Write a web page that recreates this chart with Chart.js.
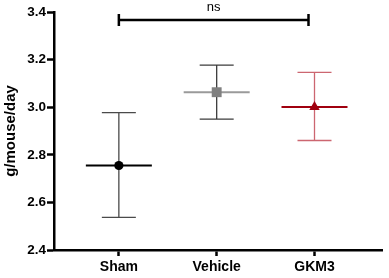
<!DOCTYPE html>
<html>
<head>
<meta charset="utf-8">
<script src="https://cdn.jsdelivr.net/npm/chart.js@4.4.0/dist/chart.umd.min.js"></script>
<style>
  html, body { margin: 0; padding: 0; background: #fff; }
  #wrap { width: 389px; height: 278px; }
</style>
</head>
<body>
<div id="wrap"><canvas id="intakeChart" width="389" height="278"></canvas></div>
<script>
// group names and values
const groups = ['Sham', 'Vehicle', 'GKM3'];
const means = [2.755, 3.063, 3.001];
const errLow = [2.537, 2.950, 2.860];
const errHigh = [2.977, 3.177, 3.146];
const yTicks = [2.4, 2.6, 2.8, 3.0, 3.2, 3.4];

// significance bracket between Sham and GKM3
const bracketGroups = ['Sham', 'GKM3'];
const bracketY = 3.366;
const bracketLabel = 'ns';

// per-group styling
const markerColors = ['#000000', '#808080', '#a0000f'];
const meanColors = ['#000000', '#9a9a9a', '#a0000f'];
const barColors = ['#4a4a4a', '#3c3c3c', '#cc6670'];
const markerStyles = ['circle', 'rect', 'triangle'];
const markerSizes = [4.6, 7, 6];

const FONT = '"Liberation Sans", Arial, Helvetica, sans-serif';

// draws the error bars, mean lines and the ns bracket from the data above
const errorBarPlugin = {
  id: 'errorBars',
  beforeDatasetsDraw(chart) {
    const ctx = chart.ctx;
    const xs = chart.scales.x;
    const ys = chart.scales.y;
    ctx.save();
    groups.forEach((g, i) => {
      const x = xs.getPixelForValue(i + 1);
      const yTop = ys.getPixelForValue(errHigh[i]);
      const yBot = ys.getPixelForValue(errLow[i]);
      const yMean = ys.getPixelForValue(means[i]);
      ctx.strokeStyle = barColors[i];
      ctx.lineWidth = 1.3;
      ctx.beginPath();
      ctx.moveTo(x, yTop); ctx.lineTo(x, yBot);
      ctx.moveTo(x - 17, yTop); ctx.lineTo(x + 17, yTop);
      ctx.moveTo(x - 17, yBot); ctx.lineTo(x + 17, yBot);
      ctx.stroke();
      ctx.strokeStyle = meanColors[i];
      ctx.lineWidth = 2;
      ctx.beginPath();
      ctx.moveTo(x - 33, yMean); ctx.lineTo(x + 33, yMean);
      ctx.stroke();
    });

    // bracket
    const x1 = xs.getPixelForValue(groups.indexOf(bracketGroups[0]) + 1);
    const x2 = xs.getPixelForValue(groups.indexOf(bracketGroups[1]) + 1) - 6;
    const yb = ys.getPixelForValue(bracketY);
    ctx.strokeStyle = '#000';
    ctx.lineWidth = 2.5;
    ctx.beginPath();
    ctx.moveTo(x1, yb); ctx.lineTo(x2, yb);
    ctx.moveTo(x1, yb - 6); ctx.lineTo(x1, yb + 6);
    ctx.moveTo(x2, yb - 6); ctx.lineTo(x2, yb + 6);
    ctx.stroke();
    ctx.fillStyle = '#000';
    ctx.font = '13px ' + FONT;
    ctx.textAlign = 'center';
    ctx.textBaseline = 'middle';
    ctx.fillText(bracketLabel, (x1 + x2) / 2, yb - 13);
    ctx.restore();
  }
};

const ctx = document.getElementById('intakeChart').getContext('2d');

new Chart(ctx, {
  type: 'scatter',
  data: {
    datasets: groups.map((g, i) => ({
      label: g,
      data: [{ x: i + 1, y: means[i] }],
      pointStyle: markerStyles[i],
      pointRadius: markerSizes[i],
      backgroundColor: markerColors[i],
      borderColor: markerColors[i],
      borderWidth: 0
    }))
  },
  options: {
    responsive: false,
    animation: false,
    layout: { padding: { top: 12, right: 0, bottom: 0, left: 0 } },
    plugins: {
      legend: { display: false },
      tooltip: { enabled: false }
    },
    scales: {
      x: {
        type: 'linear',
        min: 0.337,
        max: 3.69,
        afterBuildTicks: (scale) => {
          scale.ticks = groups.map((g, i) => ({ value: i + 1 }));
        },
        afterFit: (scale) => { scale.height = 28; },
        border: { display: true, color: '#000', width: 2.5 },
        grid: { drawOnChartArea: false, drawTicks: true, tickLength: 6, tickWidth: 2.5, color: '#000' },
        ticks: {
          autoSkip: false,
          maxRotation: 0,
          padding: 3,
          color: '#000',
          font: { family: FONT, size: 14, weight: 'bold' },
          callback: (v) => groups[v - 1]
        }
      },
      y: {
        min: 2.4,
        max: 3.4,
        afterBuildTicks: (scale) => {
          scale.ticks = yTicks.map(v => ({ value: v }));
        },
        afterFit: (scale) => { scale.width = 54; },
        border: { display: true, color: '#000', width: 2.5 },
        grid: { drawOnChartArea: false, drawTicks: true, tickLength: 7, tickWidth: 2.5, color: '#000' },
        title: {
          display: true,
          text: 'g/mouse/day',
          color: '#000',
          font: { family: FONT, size: 15, weight: 'bold' },
          padding: { top: 2, bottom: 0 }
        },
        ticks: {
          padding: 1,
          color: '#000',
          font: { family: FONT, size: 13.5, weight: 'bold' },
          callback: (v) => v.toFixed(1)
        }
      }
    }
  },
  plugins: [errorBarPlugin]
});
</script>
</body>
</html>
